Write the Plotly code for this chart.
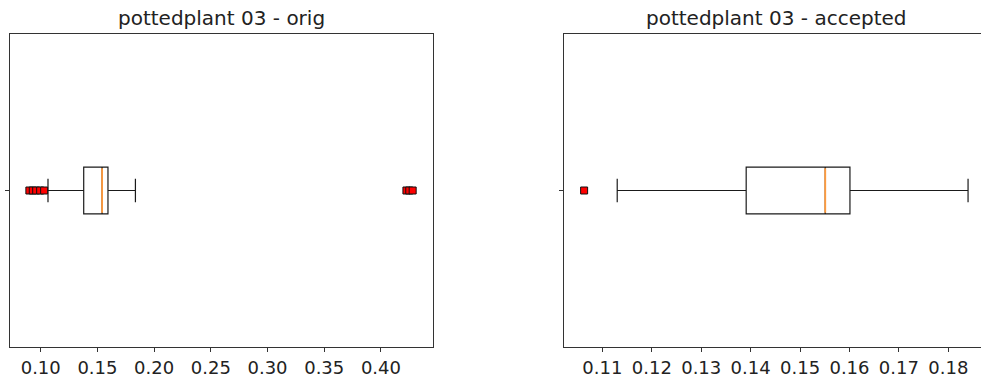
import plotly.graph_objects as go

# ---- data ----
titles = ["pottedplant 03 - orig", "pottedplant 03 - accepted"]

orig_q1 = 0.1379
orig_median = 0.1541
orig_q3 = 0.1593
orig_lowerfence = 0.1064
orig_upperfence = 0.1835
orig_outliers = [0.0900, 0.0930, 0.0960, 0.0995, 0.1030, 0.4225, 0.4250, 0.4280]

acc_q1 = 0.1391
acc_median = 0.1551
acc_q3 = 0.1601
acc_lowerfence = 0.1130
acc_upperfence = 0.1840
acc_outliers = [0.1063]

BOX_POS = 1.0
BOX_W = 0.15

fig = go.Figure()

def add_box(q1, med, q3, lo, hi, outl, xa, ya):
    fig.add_trace(go.Box(
        orientation="h", y=[BOX_POS], q1=[q1], median=[med], q3=[q3],
        lowerfence=[lo], upperfence=[hi], width=BOX_W, whiskerwidth=0.5,
        fillcolor="white", line=dict(color="#1a1a1a", width=1.2),
        boxpoints=False, xaxis=xa, yaxis=ya, showlegend=False, hoverinfo="skip"))
    fig.add_trace(go.Scatter(
        x=[med, med], y=[BOX_POS - BOX_W / 2 + 0.004, BOX_POS + BOX_W / 2 - 0.004], mode="lines",
        line=dict(color="#ff9a3c", width=1.8), xaxis=xa, yaxis=ya, showlegend=False))
    fig.add_trace(go.Scatter(
        x=outl, y=[BOX_POS] * len(outl), mode="markers",
        marker=dict(symbol="square", size=7, color="red", line=dict(color="#111", width=1)),
        xaxis=xa, yaxis=ya, showlegend=False))

add_box(orig_q1, orig_median, orig_q3, orig_lowerfence, orig_upperfence, orig_outliers, "x", "y")
add_box(acc_q1, acc_median, acc_q3, acc_lowerfence, acc_upperfence, acc_outliers, "x2", "y2")

tickfont = dict(family="DejaVu Sans", size=18, color="#222")
common_x = dict(showline=True, mirror=True, linecolor="#333", linewidth=1, ticks="outside",
                ticklen=4, tickcolor="#333", tickfont=tickfont, showgrid=False, zeroline=False,
                tickformat=".2f")
common_y = dict(showline=True, linecolor="#333", linewidth=1, ticks="outside", ticklen=4,
                tickcolor="#333", tickvals=[BOX_POS], showticklabels=False, showgrid=False,
                zeroline=False, range=[0.5, 1.5])

fig.update_layout(
    width=981, height=378,
    margin=dict(l=10, r=0, t=34, b=28),
    paper_bgcolor="white", plot_bgcolor="white",
    xaxis=dict(domain=[0.0, 0.4356], range=[0.0729, 0.4459], tick0=0, dtick=0.05, **common_x),
    yaxis=dict(anchor="x", mirror=True, **common_y),
    xaxis2=dict(domain=[0.5709, 1.0], range=[0.1023, 0.18662], tick0=0, dtick=0.01,
                anchor="y2", **common_x),
    yaxis2=dict(anchor="x2", mirror=False, **common_y),
    annotations=[
        dict(text=titles[0], x=0.218, y=1.0506, xref="paper", yref="paper",
             xanchor="center", yanchor="middle", showarrow=False,
             font=dict(family="DejaVu Sans", size=20, color="#222")),
        dict(text=titles[1], x=0.7886, y=1.0506, xref="paper", yref="paper",
             xanchor="center", yanchor="middle", showarrow=False,
             font=dict(family="DejaVu Sans", size=20, color="#222")),
    ],
)

fig.write_html("out.html")
